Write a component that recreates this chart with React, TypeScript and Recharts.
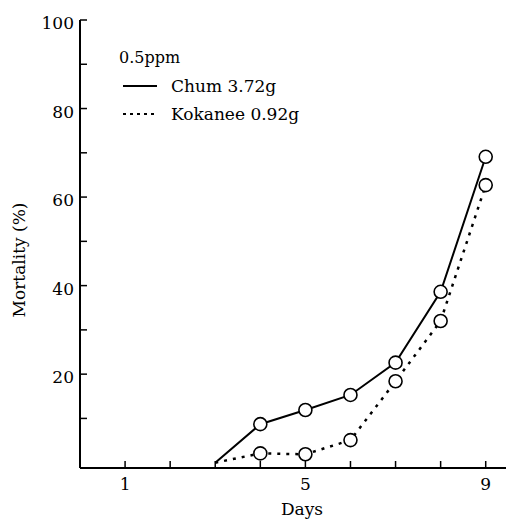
import { LineChart, Line, XAxis, YAxis } from "recharts";

const days = [3, 4, 5, 6, 7, 8, 9];
const chum = [0, 8.7, 11.9, 15.3, 22.6, 38.6, 69.1];
const kokanee = [0, 2.1, 1.9, 5.1, 18.4, 32.0, 62.7];

const dayTicks = [1, 2, 3, 4, 5, 6, 7, 8, 9];
const dayLabels = [1, 5, 9];
const pctTicks = [10, 20, 30, 40, 50, 60, 70, 80, 90, 100];
const pctLabels = [20, 40, 60, 80, 100];

const seriesNames = ["Chum 3.72g", "Kokanee 0.92g"];
const concentration = "0.5ppm";

const data = days.map((d, i) => ({ day: d, chum: chum[i], kokanee: kokanee[i] }));

const FONT = "'DejaVu Serif', serif";
const tickStyle = { fill: "#000", fontSize: 17, fontFamily: FONT };

// open circles, no marker on the starting point
const OpenDot = (props: any) => {
  const { cx, cy, index } = props;
  if (index === 0 || cx == null) return <g key={`d-${index}`} />;
  return <circle key={`d-${index}`} cx={cx} cy={cy} r={6.5} fill="#fff" stroke="#000" strokeWidth={1.6} />;
};

export default function App() {
  return (
    <div style={{ position: "absolute", left: 0, top: 0, width: 509, height: 524, background: "#fff", fontFamily: FONT }}>
      <LineChart width={509} height={524} data={data} margin={{ top: 20, right: 3, left: 0, bottom: 0 }}>
        <XAxis
          dataKey="day"
          type="number"
          domain={[0, 9.45]}
          allowDataOverflow
          ticks={dayTicks}
          tickFormatter={(v: number) => (dayLabels.includes(v) ? String(v) : "")}
          height={56}
          tickSize={-7}
          tickMargin={17}
          tick={tickStyle}
          axisLine={{ stroke: "#000", strokeWidth: 2 }}
          tickLine={{ stroke: "#000", strokeWidth: 1.5 }}
          label={{ value: "Days", position: "insideBottom", offset: 9, dx: 9, fill: "#000", fontSize: 17, fontFamily: FONT }}
        />
        <XAxis
          xAxisId="top"
          orientation="top"
          type="number"
          domain={[0, 9.45]}
          allowDataOverflow
          ticks={dayTicks}
          tickFormatter={() => ""}
          height={0}
          tickSize={-7}
          axisLine={{ stroke: "#000", strokeWidth: 2 }}
          tickLine={{ stroke: "#000", strokeWidth: 1.5 }}
        />
        <YAxis
          type="number"
          domain={[-1.2, 100]}
          allowDataOverflow
          ticks={pctTicks}
          tickFormatter={(v: number) => (pctLabels.includes(v) ? String(v) : "")}
          width={80}
          tickSize={-7}
          tickMargin={13}
          tick={{ ...tickStyle, dy: 3 }}
          axisLine={{ stroke: "#000", strokeWidth: 2 }}
          tickLine={{ stroke: "#000", strokeWidth: 1.5 }}
          label={{
            value: "Mortality (%)",
            angle: -90,
            position: "insideLeft",
            offset: 19,
            dy: 16,
            fill: "#000",
            fontSize: 17,
            fontFamily: FONT,
            style: { textAnchor: "middle" },
          }}
        />
        <YAxis
          yAxisId="right"
          orientation="right"
          type="number"
          domain={[-1.2, 100]}
          allowDataOverflow
          ticks={pctTicks}
          tickFormatter={() => ""}
          width={0}
          tickSize={-7}
          axisLine={{ stroke: "#000", strokeWidth: 2 }}
          tickLine={{ stroke: "#000", strokeWidth: 1.5 }}
        />
        <Line
          type="linear"
          dataKey="kokanee"
          stroke="#000"
          strokeWidth={2.5}
          strokeDasharray="3 6"
          dot={OpenDot}
          activeDot={false}
          isAnimationActive={false}
        />
        <Line
          type="linear"
          dataKey="chum"
          stroke="#000"
          strokeWidth={2}
          dot={OpenDot}
          activeDot={false}
          isAnimationActive={false}
        />
      </LineChart>
      <svg style={{ position: "absolute", left: 110, top: 40 }} width={220} height={90}>
        <text x={9} y={23} fontSize={16} fill="#000">{concentration}</text>
        <line x1={13} x2={47} y1={46} y2={46} stroke="#000" strokeWidth={2} />
        <text x={61} y={52} fontSize={17} fill="#000">{seriesNames[0]}</text>
        <line x1={13} x2={47} y1={74} y2={74} stroke="#000" strokeWidth={2} strokeDasharray="3 4" />
        <text x={61} y={80} fontSize={17} fill="#000">{seriesNames[1]}</text>
      </svg>
    </div>
  );
}
